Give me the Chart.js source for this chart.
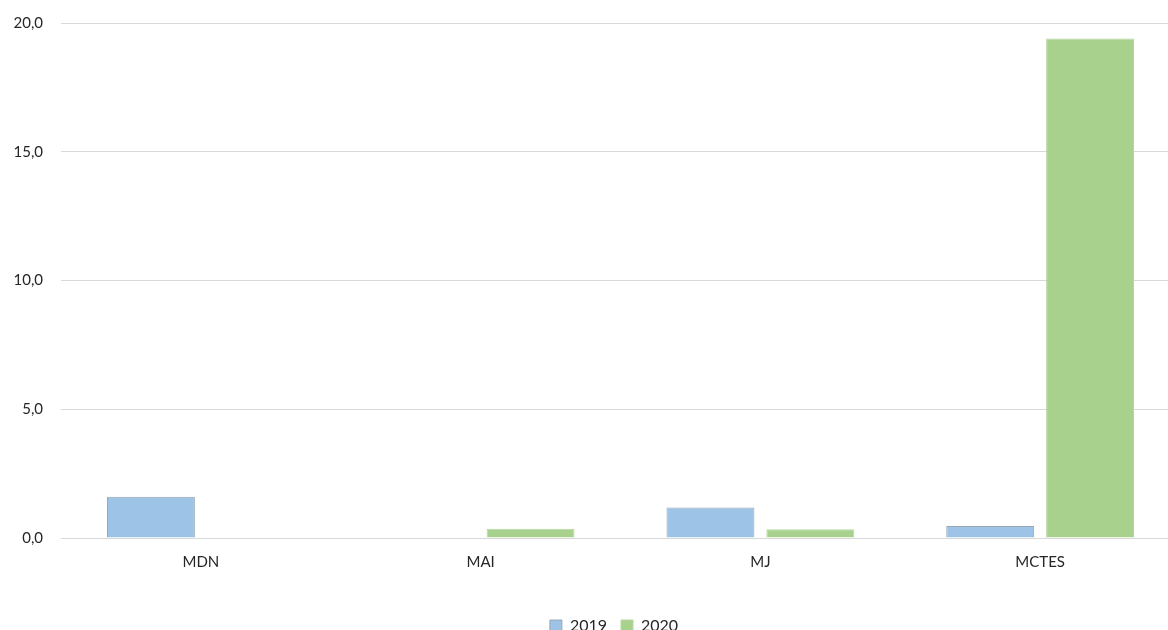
<!DOCTYPE html>
<html>
<head>
<meta charset="utf-8">
<script src="https://cdn.jsdelivr.net/npm/chart.js@4"></script>
<style>
  html, body { margin: 0; padding: 0; background: #fff; overflow: hidden; }
  #wrap { position: relative; width: 1180px; height: 648px; margin-top: -4px; }
</style>
</head>
<body>
<div id="wrap"><canvas id="chart"></canvas></div>
<script>
// ministries and yearly values
const categories = ["MDN", "MAI", "MJ", "MCTES"];
const seriesLabels = ["2019", "2020"];
const values2019 = [1.6, 0, 1.18, 0.47];
const values2020 = [0, 0.36, 0.34, 19.4];
const yTicks = [0, 5, 10, 15, 20];

const FONT = "Lato, 'Open Sans', sans-serif";

// nudge the legend row a bit to the right of the canvas centre
const legendShift = {
  id: "legendShift",
  beforeDraw(chart) {
    const lg = chart.legend;
    if (lg) { lg.left += 24; lg.right += 24; }
  }
};

document.addEventListener("DOMContentLoaded", function () {
  const ctx = document.getElementById("chart").getContext("2d");

  new Chart(ctx, {
    type: "bar",
    data: {
      labels: categories,
      datasets: [
        {
          label: seriesLabels[0],
          data: values2019,
          backgroundColor: "#9dc3e6",
          borderColor: "#9aa7b4",
          borderWidth: 1,
          categoryPercentage: 0.714,
          barPercentage: 0.88
        },
        {
          label: seriesLabels[1],
          data: values2020,
          backgroundColor: "#a9d18e",
          borderColor: "#b5d8a0",
          borderWidth: 1,
          categoryPercentage: 0.714,
          barPercentage: 0.88
        }
      ]
    },
    plugins: [legendShift],
    options: {
      responsive: true,
      maintainAspectRatio: false,
      animation: false,
      layout: { padding: { top: 9, right: 0, left: 0, bottom: 0 } },
      plugins: {
        tooltip: { enabled: false },
        legend: {
          position: "bottom",
          labels: {
            boxWidth: 12,
            boxHeight: 12,
            padding: 14,
            color: "#262626",
            font: { family: FONT, size: 16 }
          }
        }
      },
      scales: {
        x: {
          grid: { display: false },
          border: { display: false },
          ticks: {
            color: "#262626",
            padding: 7,
            font: { family: FONT, size: 15 }
          },
          afterFit: function (scale) { scale.height = 66; }
        },
        y: {
          min: yTicks[0],
          max: yTicks[yTicks.length - 1],
          afterBuildTicks: function (scale) {
            scale.ticks = yTicks.map(v => ({ value: v }));
          },
          grid: { color: "#d9d9d9", lineWidth: 1, drawTicks: false },
          border: { display: false },
          ticks: {
            color: "#262626",
            padding: 18,
            font: { family: FONT, size: 15 },
            callback: v => v.toFixed(1).replace(".", ",")
          },
          afterFit: function (scale) { scale.width = 61; }
        }
      }
    }
  });
});
</script>
</body>
</html>
